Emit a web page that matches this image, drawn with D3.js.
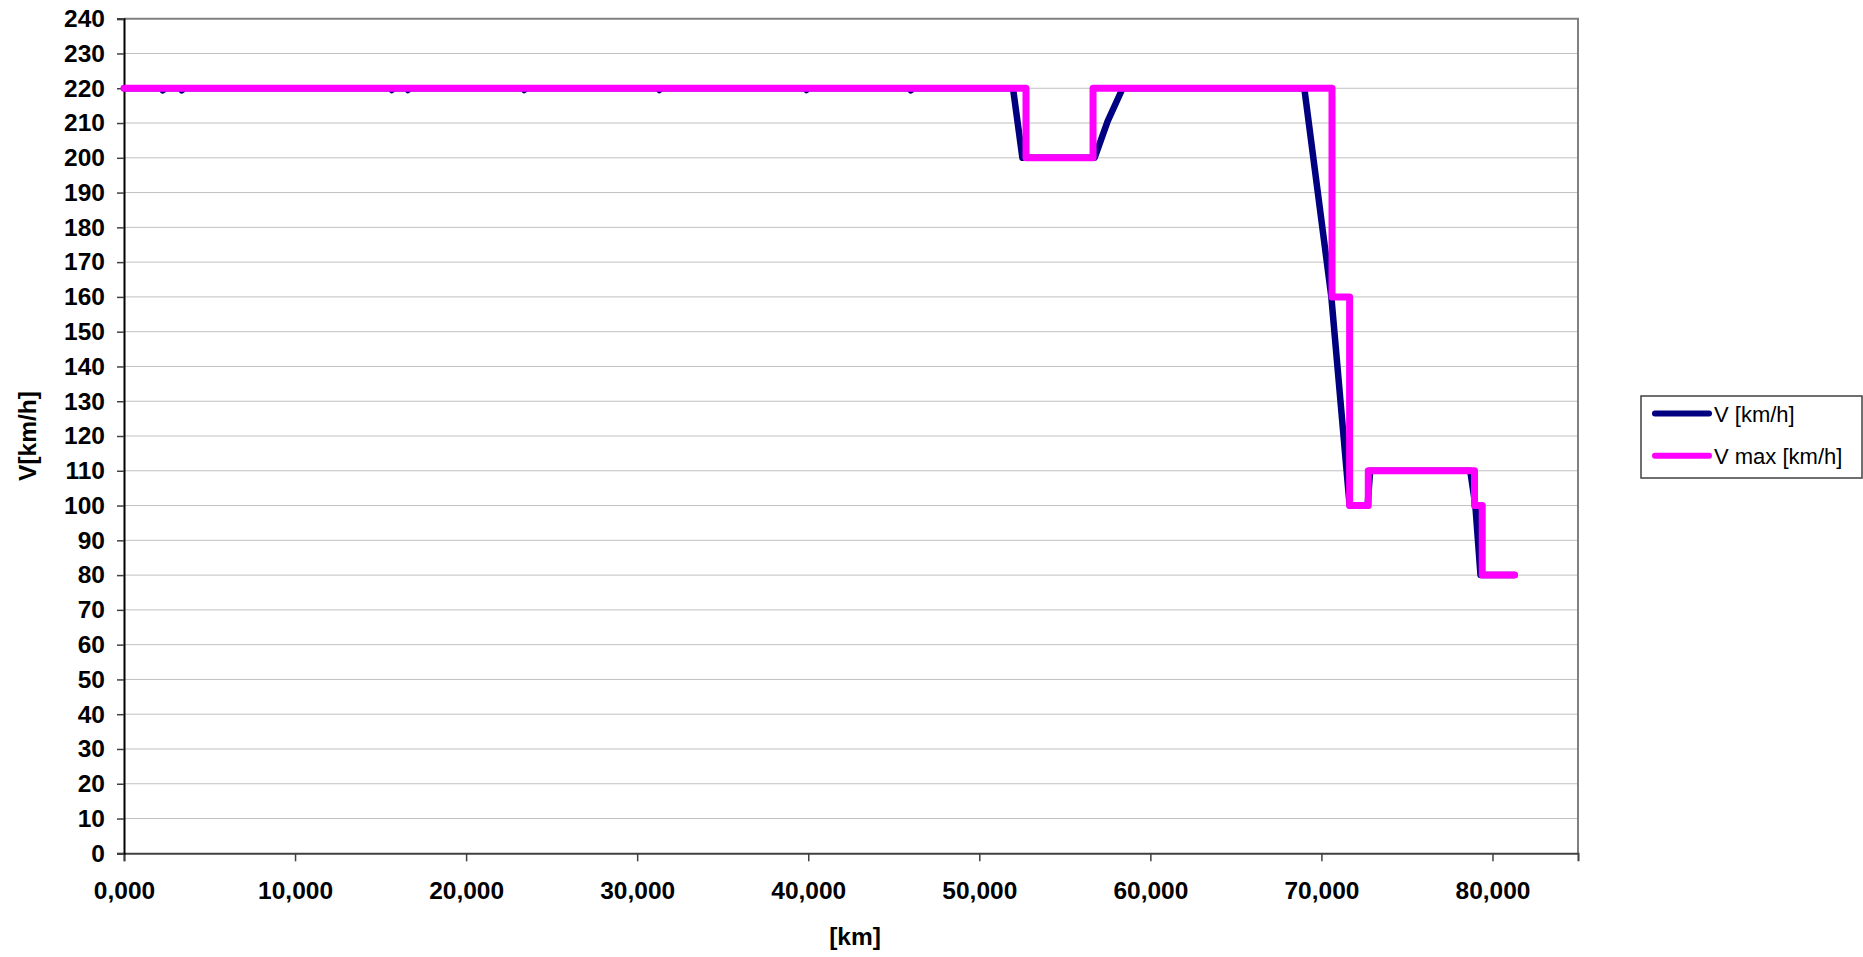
<!DOCTYPE html>
<html>
<head>
<meta charset="utf-8">
<script src="https://cdn.jsdelivr.net/npm/d3@7"></script>
<style>
  html, body { margin: 0; padding: 0; background: #fff; }
  svg { display: block; }
  text { font-family: "Liberation Sans", Arial, sans-serif; }
</style>
</head>
<body>
<script>
// Distance along the line [km] and speeds [km/h]
const speedKm = [0, 2.17, 2.27, 2.37, 3.28, 3.38, 3.48, 15.56, 15.66, 15.76, 16.5, 16.6, 16.7,
  23.3, 23.4, 23.5, 31.2, 31.3, 31.4, 39.8, 39.9, 40.0, 45.9, 46.0, 46.1,
  51.97, 52.52, 56.74, 57.5, 58.38, 69.0, 70.58, 71.65, 72.7, 72.85, 78.7, 79.0, 79.3, 81.29];
const speedV = [220, 220, 219.4, 220, 220, 219.4, 220, 220, 219.5, 220, 220, 219.5, 220,
  220, 219.5, 220, 220, 219.5, 220, 220, 219.5, 220, 220, 219.4, 220,
  220, 200, 200, 210.5, 220, 220, 160, 100, 100, 110, 110, 100, 80, 80];

const limitKm = [0, 52.73, 52.73, 56.65, 56.65, 70.62, 70.62, 71.65, 71.65, 72.74, 72.74, 78.95, 78.95, 79.40, 79.40, 81.29];
const limitV  = [220, 220, 200, 200, 220, 220, 160, 160, 100, 100, 110, 110, 100, 100, 80, 80];

const xTicks = [0, 10, 20, 30, 40, 50, 60, 70, 80];
const yTicks = d3.range(0, 241, 10);

const seriesNames = ["V [km/h]", "V max [km/h]"];
const seriesColors = ["#000080", "#ff00ff"];

const W = 1863, H = 957;
const plot = { left: 124, top: 18.7, right: 1578, bottom: 853.3 };

const svg = d3.select("body").append("svg").attr("width", W).attr("height", H);

const x = d3.scaleLinear().domain([0, 85]).range([plot.left, plot.right]);
const y = d3.scaleLinear().domain([0, 240]).range([plot.bottom, plot.top]);

// horizontal gridlines
svg.append("g")
  .selectAll("line")
  .data(yTicks.filter(d => d > 0 && d < 240))
  .join("line")
  .attr("x1", plot.left).attr("x2", plot.right)
  .attr("y1", d => y(d)).attr("y2", d => y(d))
  .attr("stroke", "#c0c0c0").attr("stroke-width", 1);

// plot frame (top and right)
svg.append("path")
  .attr("d", `M${plot.left},${plot.top}H${plot.right}V${plot.bottom}`)
  .attr("fill", "none").attr("stroke", "#808080").attr("stroke-width", 2);

const fmtKm = d => d3.format(".3f")(d).replace(".", ",");

// x axis
const xAxis = svg.append("g")
  .attr("transform", `translate(0,${plot.bottom})`)
  .call(d3.axisBottom(x).tickValues(xTicks).tickFormat(fmtKm).tickSize(8).tickPadding(20));
xAxis.select(".domain").attr("stroke", "#404040").attr("stroke-width", 2);
xAxis.selectAll(".tick line").attr("stroke", "#404040").attr("stroke-width", 1.5);
xAxis.selectAll("text")
  .attr("font-size", 24.5).attr("font-weight", "bold").attr("fill", "#000")
  .attr("font-family", "'Liberation Sans', Arial, sans-serif");

// y axis
const yAxis = svg.append("g")
  .attr("transform", `translate(${plot.left},0)`)
  .call(d3.axisLeft(y).tickValues(yTicks).tickSize(7).tickPadding(12));
yAxis.select(".domain").attr("stroke", "#000").attr("stroke-width", 2);
yAxis.selectAll(".tick line").attr("stroke", "#404040").attr("stroke-width", 1.5);
yAxis.selectAll("text")
  .attr("font-size", 24.5).attr("font-weight", "bold").attr("fill", "#000")
  .attr("font-family", "'Liberation Sans', Arial, sans-serif");

// axis titles
svg.append("text")
  .attr("transform", `translate(36,${(plot.top + plot.bottom) / 2}) rotate(-90)`)
  .attr("text-anchor", "middle")
  .attr("font-size", 24.5).attr("font-weight", "bold")
  .text("V[km/h]");
svg.append("text")
  .attr("x", (plot.left + plot.right) / 2 + 4).attr("y", 945)
  .attr("text-anchor", "middle")
  .attr("font-size", 24.5).attr("font-weight", "bold")
  .text("[km]");

// series lines
const line = d3.line().x(d => x(d[0])).y(d => y(d[1]));
const speedData = d3.zip(speedKm, speedV);
const limitData = d3.zip(limitKm, limitV);

svg.append("path")
  .datum(speedData)
  .attr("d", line)
  .attr("fill", "none").attr("stroke", seriesColors[0])
  .attr("stroke-width", 6.5).attr("stroke-linejoin", "round").attr("stroke-linecap", "round");

svg.append("path")
  .datum(limitData)
  .attr("d", line)
  .attr("fill", "none").attr("stroke", seriesColors[1])
  .attr("stroke-width", 7).attr("stroke-linejoin", "round").attr("stroke-linecap", "round");

// legend
const legend = svg.append("g");
legend.append("rect")
  .attr("x", 1641).attr("y", 396).attr("width", 221).attr("height", 82)
  .attr("fill", "#fff").attr("stroke", "#404040").attr("stroke-width", 1.5);
const items = legend.selectAll("g.item")
  .data(seriesNames)
  .join("g").attr("class", "item")
  .attr("transform", (d, i) => `translate(0,${413.5 + i * 42.3})`);
items.append("line")
  .attr("x1", 1655).attr("x2", 1709)
  .attr("stroke", (d, i) => seriesColors[i])
  .attr("stroke-width", 6).attr("stroke-linecap", "round");
items.append("text")
  .attr("x", 1714).attr("y", 8)
  .attr("font-size", 22)
  .attr("fill", "#000")
  .text(d => d);
</script>
</body>
</html>
